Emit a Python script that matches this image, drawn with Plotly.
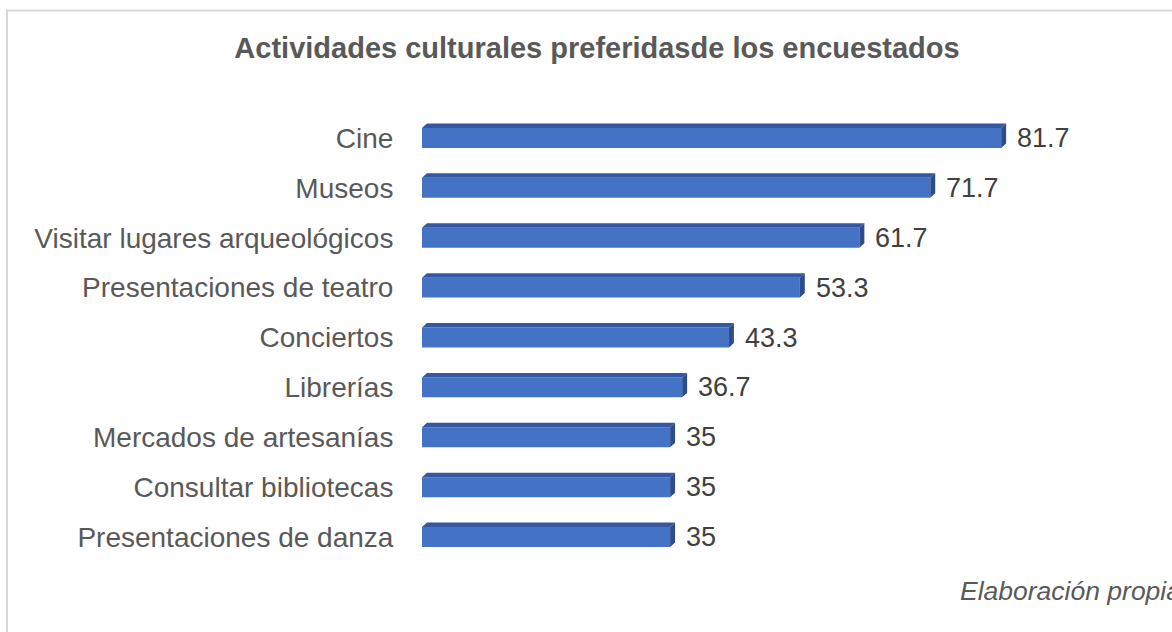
import plotly.graph_objects as go

categories = ["Cine", "Museos", "Visitar lugares arqueológicos", "Presentaciones de teatro",
              "Conciertos", "Librerías", "Mercados de artesanías", "Consultar bibliotecas",
              "Presentaciones de danza"]
values = [81.7, 71.7, 61.7, 53.3, 43.3, 36.7, 35, 35, 35]
value_labels = ["81.7", "71.7", "61.7", "53.3", "43.3", "36.7", "35", "35", "35"]

n = len(categories)
ypos = [n - 1 - i for i in range(n)]  # Cine on top

BAR_W = 0.4
DX = 0.7    # depth in x units
DY = 0.09   # depth in y units

FRONT = "#4472C4"
TOP = "#3558A0"
SIDE = "#2C4C8C"
FONT = "Liberation Sans, Arial, sans-serif"

fig = go.Figure()
fig.add_trace(go.Bar(
    x=values, y=ypos, orientation="h", width=BAR_W,
    marker=dict(color=FRONT, line=dict(width=0)),
    hoverinfo="skip",
))

shapes = []
for v, y in zip(values, ypos):
    yt = y + BAR_W / 2
    yb = y - BAR_W / 2
    shapes.append(dict(type="path", xref="x", yref="y",
                       path=f"M 0 {yt} L {DX} {yt+DY} L {v+DX} {yt+DY} L {v} {yt} Z",
                       fillcolor=TOP, line=dict(width=0), layer="above"))
    shapes.append(dict(type="path", xref="x", yref="y",
                       path=f"M {v} {yt} L {v+DX} {yt+DY} L {v+DX} {yb+DY} L {v} {yb} Z",
                       fillcolor=SIDE, line=dict(width=0), layer="above"))

# border
shapes.append(dict(type="rect", xref="paper", yref="paper",
                   x0=-0.6505, x1=1.3, y0=-0.3, y1=1.2282,
                   line=dict(color="#d9d9d9", width=2), fillcolor="rgba(0,0,0,0)", layer="below"))

annotations = []
for v, y, t in zip(values, ypos, value_labels):
    annotations.append(dict(x=v, y=y, xref="x", yref="y", text=t, showarrow=False,
                            xanchor="left", yanchor="middle", xshift=14,
                            font=dict(family=FONT, size=27, color="#404040")))
annotations.append(dict(x=(958 - 422) / 638, y=(562 - 591) / 449, xref="paper", yref="paper",
                        text="<i>Elaboración propia</i>", showarrow=False,
                        xanchor="left", yanchor="middle",
                        font=dict(family=FONT, size=26.5, color="#595959")))

fig.update_layout(
    width=1172, height=632,
    margin=dict(l=422, r=112, t=113, b=70),
    paper_bgcolor="white", plot_bgcolor="white",
    showlegend=False,
    title=dict(text="<b>Actividades culturales preferidasde los encuestados</b>",
               x=597 / 1172, xanchor="center", y=1 - 48 / 632, yanchor="middle",
               font=dict(family=FONT, size=29, color="#595959")),
    xaxis=dict(range=[0, 90], visible=False, fixedrange=True),
    yaxis=dict(range=[-0.5, n - 0.5], tickmode="array", tickvals=ypos, ticktext=categories,
               showgrid=False, zeroline=False, showline=False,
               ticks="outside", ticklen=22, tickcolor="rgba(0,0,0,0)",
               tickfont=dict(family=FONT, size=28, color="#595959")),
    shapes=shapes,
    annotations=annotations,
)

fig.write_html("out.html")
